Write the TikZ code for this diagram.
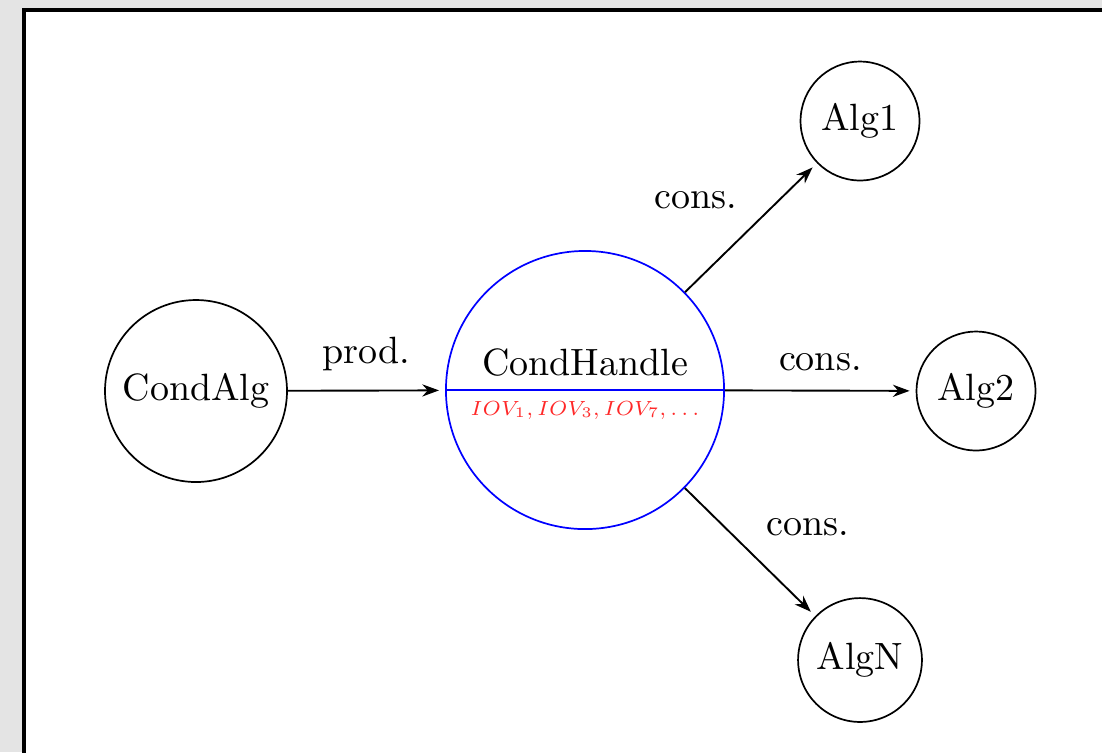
\documentclass[tikz,border=0pt]{standalone}
\usepackage{graphicx}
\usetikzlibrary{arrows.meta}
\definecolor{bggray}{RGB}{228,228,228}
\definecolor{iovred}{RGB}{255,40,40}
\begin{document}
\begin{tikzpicture}[x=0.2632pt,y=-0.2632pt,
  circ/.style={draw=black, circle, line width=0.45pt, inner sep=0pt},
  conn/.style={-{Stealth[length=4.4pt,width=3.2pt]}, line width=0.5pt, shorten >=1.6pt}]
\useasboundingbox (0,0) rectangle (1102,752);
\clip (0,0) rectangle (1102,752);
\fill[bggray] (0,0) rectangle (1102,752);
\draw[line width=1pt, fill=white] (24,10) rectangle (1130,780);
% nodes
\node[circ, minimum size=47.9pt] (ca) at (196,391) {CondAlg};
\node[circ, draw=blue, minimum size=73.2pt] (ch) at (585,390) {};
\node[circ, minimum size=31.3pt] (a1) at (860,121) {Alg1};
\node[circ, minimum size=31.3pt] (a2) at (976,391) {Alg2};
\node[circ, minimum size=32.6pt] (an) at (860,660) {AlgN};
\draw[blue, line width=0.45pt] (ch.west) -- (ch.east);
\node (cht) at (585,363) {CondHandle};
\node[iovred] (chi) at (585,410) {\scalebox{0.77}{\scriptsize $IOV_1, IOV_3, IOV_7, \ldots$}};
% connectors
\draw[conn] (ca) -- node[above, inner sep=5pt] (lp) {prod.} (ch);
\draw[conn] (ch) -- node[above left, inner sep=4pt, pos=0.52] (l1) {cons.} (a1);
\draw[conn] (ch) -- node[above, inner sep=5pt] (l2) {cons.} (a2);
\draw[conn] (ch) -- node[above right, inner sep=4pt, pos=0.5] (ln) {cons.} (an);
\end{tikzpicture}
\end{document}
